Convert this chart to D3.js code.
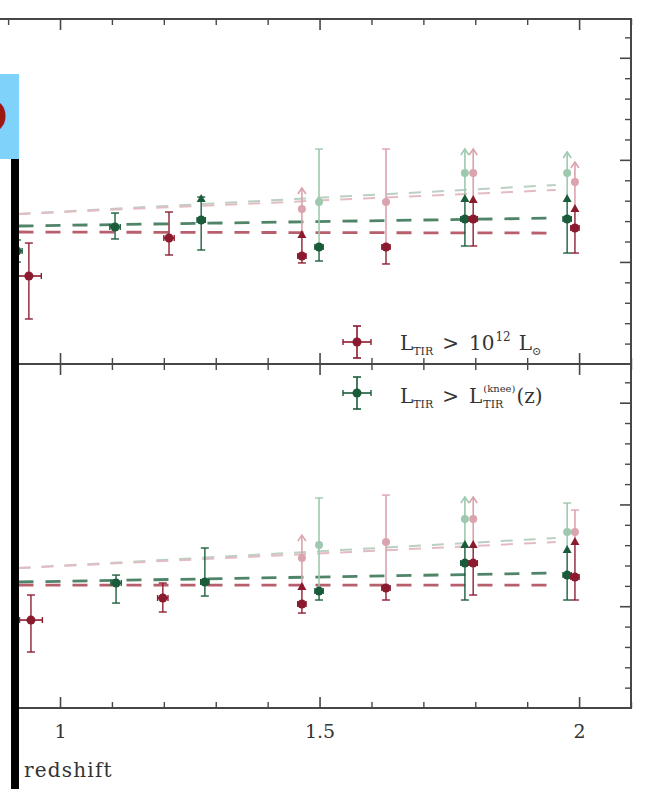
<!DOCTYPE html>
<html>
<head>
<meta charset="utf-8">
<script src="https://cdn.jsdelivr.net/npm/d3@7"></script>
<style>
body{margin:0;background:#fff}
svg{display:block}
</style>
</head>
<body>
<div id="chart"></div>
<script>
// ---- data (redshift z, value v, error range lo/hi, x error, light point, dark caret, arrow flag)
var xMajorTicks=[1,1.5,2]
var xMinorTicks=[0.8,0.9,1.1,1.2,1.3,1.4,1.6,1.7,1.8,1.9,2.1]
var yMajorTicks=[1,2,3]
var yMinorTicks=[0.2,0.4,0.6,0.8,1.2,1.4,1.6,1.8,2.2,2.4,2.6,2.8,3.2]

var topRed=[
  {z:0.940,v:0.862,lo:0.441,hi:1.185,xe:0.024},
  {z:1.210,v:1.234,lo:1.068,hi:1.489,xe:0.010},
  {z:1.466,v:1.058,lo:0.990,hi:1.724,xe:0.008,light:1.519,caret:1.283,arrow:true},
  {z:1.628,v:1.146,lo:0.980,hi:2.106,xe:0.008,light:1.587},
  {z:1.796,v:1.421,lo:1.156,hi:2.106,xe:0.008,light:1.871,caret:1.626,arrow:true},
  {z:1.992,v:1.332,lo:1.087,hi:1.979,xe:0.008,light:1.783,caret:1.538,arrow:true}
]
var topGreen=[
  {z:0.917,v:1.107,lo:0.999,hi:1.215,xe:0.010},
  {z:1.106,v:1.342,lo:1.225,hi:1.479,xe:0.010},
  {z:1.272,v:1.411,lo:1.117,hi:1.636,xe:0.008,caret:1.636},
  {z:1.499,v:1.146,lo:1.009,hi:2.106,xe:0.008,light:1.587},
  {z:1.780,v:1.421,lo:1.156,hi:2.106,xe:0.008,light:1.871,caret:1.636,arrow:true},
  {z:1.977,v:1.421,lo:1.087,hi:2.077,xe:0.008,light:1.871,caret:1.636,arrow:true}
]
var botRed=[
  {z:0.944,v:0.864,lo:0.550,hi:1.110,xe:0.022},
  {z:1.198,v:1.081,lo:0.943,hi:1.228,xe:0.010},
  {z:1.466,v:1.022,lo:0.933,hi:1.699,xe:0.008,light:1.473,caret:1.208,arrow:true},
  {z:1.628,v:1.179,lo:1.061,hi:2.092,xe:0.008,light:1.631},
  {z:1.796,v:1.424,lo:1.110,hi:2.073,xe:0.008,light:1.857,caret:1.621,arrow:true},
  {z:1.992,v:1.287,lo:1.061,hi:1.945,xe:0.008,light:1.729,caret:1.650}
]
var botGreen=[
  {z:1.108,v:1.228,lo:1.031,hi:1.306,xe:0.010},
  {z:1.279,v:1.238,lo:1.100,hi:1.572,xe:0.008},
  {z:1.499,v:1.149,lo:1.061,hi:2.063,xe:0.008,light:1.601},
  {z:1.780,v:1.424,lo:1.061,hi:2.073,xe:0.008,light:1.857,caret:1.621,arrow:true},
  {z:1.977,v:1.306,lo:1.061,hi:2.014,xe:0.008,light:1.729,caret:1.572}
]

// dashed fit lines, values at fitZ ends
var fitZ=[0.92,1.955]
var topRedFit=[1.293,1.283]
var topGreenFit=[1.352,1.430]
var topLightGreenFit=[1.470,1.754]
var topLightRedFit=[1.470,1.705]
var botRedFit=[1.208,1.208]
var botGreenFit=[1.238,1.326]
var botLightGreenFit=[1.375,1.670]
var botLightRedFit=[1.375,1.631]

var redDark='#8c1a2e', redLight='#dba3ad', greenDark='#1a5c3a', greenLight='#9ec9ad'
var axisCol='#474747'
var font='DejaVu Serif'

var svg=d3.select('#chart').append('svg').attr('width',656).attr('height',789)

var x=d3.scaleLinear().domain([0.8,2.1]).range([-43.8,631])

var panels=[
  {y:d3.scaleLinear().domain([0,3.38]).range([364,19]),red:topRed,green:topGreen,
   fits:[[topLightGreenFit,'#b9d0c3',2],[topLightRedFit,'#e3bcc3',2],[topGreenFit,'#4f8468',2.8],[topRedFit,'#b85f6d',2.8]]},
  {y:d3.scaleLinear().domain([0,3.38]).range([708,364]),red:botRed,green:botGreen,
   fits:[[botLightGreenFit,'#b9d0c3',2],[botLightRedFit,'#e3bcc3',2],[botGreenFit,'#4f8468',2.8],[botRedFit,'#b85f6d',2.8]]}
]

panels.forEach(function(p,pi){
  var y=p.y
  var g=svg.append('g')
  // fits
  p.fits.forEach(function(f,i){
    var pts=fitZ.map(function(z,k){return [x(z),y(f[0][k])]})
    g.append('path').attr('d',d3.line()(pts))
      .attr('fill','none').attr('stroke',f[1]).attr('stroke-width',f[2])
      .attr('stroke-dasharray',i<2?'12,11':'15,12')
  })
  drawSeries(g,y,p.green,greenDark,greenLight)
  drawSeries(g,y,p.red,redDark,redLight)

  // frame
  var y0=y.range()[0], y1=y.range()[1]
  g.append('rect').attr('x',x(0.8)).attr('y',y1).attr('width',631-x(0.8)).attr('height',y0-y1)
    .attr('fill','none').attr('stroke',axisCol).attr('stroke-width',2)

  // ticks, all pointing inward
  ;[[d3.axisTop(x),y1],[d3.axisBottom(x),y0]].forEach(function(a){
    var maj=svg.append('g').attr('transform','translate(0,'+a[1]+')')
      .call(a[0].tickValues(xMajorTicks).tickSize(-11).tickSizeOuter(0).tickFormat(''))
    maj.select('.domain').remove()
    maj.selectAll('line').attr('stroke',axisCol).attr('stroke-width',1.6)
  })
  ;[[d3.axisTop(x),y1],[d3.axisBottom(x),y0]].forEach(function(a){
    var mn=svg.append('g').attr('transform','translate(0,'+a[1]+')')
      .call(a[0].tickValues(xMinorTicks).tickSize(-6).tickSizeOuter(0).tickFormat(''))
    mn.select('.domain').remove()
    mn.selectAll('line').attr('stroke',axisCol).attr('stroke-width',1.4)
  })
  var rMaj=svg.append('g').attr('transform','translate(631,0)')
    .call(d3.axisLeft(y).tickValues(yMajorTicks).tickSize(11).tickSizeOuter(0).tickFormat(''))
  rMaj.select('.domain').remove()
  rMaj.selectAll('line').attr('stroke',axisCol).attr('stroke-width',1.6)
  var rMin=svg.append('g').attr('transform','translate(631,0)')
    .call(d3.axisLeft(y).tickValues(yMinorTicks).tickSize(6).tickSizeOuter(0).tickFormat(''))
  rMin.select('.domain').remove()
  rMin.selectAll('line').attr('stroke',axisCol).attr('stroke-width',1.4)
})

// x tick labels under bottom panel
var lab=svg.append('g').attr('transform','translate(0,708)')
  .call(d3.axisBottom(x).tickValues(xMajorTicks).tickSize(0).tickPadding(17).tickFormat(function(d){return d}))
lab.select('.domain').remove()
lab.selectAll('text').attr('font-family',font).attr('font-size',19).attr('fill','#333')

svg.append('text').attr('x',24).attr('y',777).attr('font-family',font).attr('font-size',20)
  .attr('letter-spacing',1.2).attr('fill','#333').text('redshift')

function drawSeries(g,y,data,dark,light){
  data.forEach(function(d){
    var cx=x(d.z)
    var darkTop=d.caret!=null?d.caret:(d.light==null?d.hi:d.v)
    // light upper part of bar
    if(darkTop<d.hi){
      g.append('line').attr('x1',cx).attr('x2',cx).attr('y1',y(darkTop)).attr('y2',y(d.hi))
        .attr('stroke',light).attr('stroke-width',1.6)
    }
    g.append('line').attr('x1',cx).attr('x2',cx).attr('y1',y(d.lo)).attr('y2',y(darkTop))
      .attr('stroke',dark).attr('stroke-width',1.6).attr('opacity',0.85)
    // caps
    g.append('line').attr('x1',cx-4).attr('x2',cx+4).attr('y1',y(d.lo)).attr('y2',y(d.lo))
      .attr('stroke',dark).attr('stroke-width',1.6).attr('opacity',0.85)
    if(d.arrow){
      g.append('path').attr('d','M'+(cx-4)+','+(y(d.hi)+6)+'L'+cx+','+y(d.hi)+'L'+(cx+4)+','+(y(d.hi)+6))
        .attr('fill','none').attr('stroke',light).attr('stroke-width',1.6)
    } else {
      g.append('line').attr('x1',cx-4).attr('x2',cx+4).attr('y1',y(d.hi)).attr('y2',y(d.hi))
        .attr('stroke',d.light!=null?light:dark).attr('stroke-width',1.6).attr('opacity',0.85)
    }
    // x error
    g.append('line').attr('x1',x(d.z-d.xe)).attr('x2',x(d.z+d.xe)).attr('y1',y(d.v)).attr('y2',y(d.v))
      .attr('stroke',dark).attr('stroke-width',1.6)
    ;[d.z-d.xe,d.z+d.xe].forEach(function(e){
      g.append('line').attr('x1',x(e)).attr('x2',x(e)).attr('y1',y(d.v)-3).attr('y2',y(d.v)+3)
        .attr('stroke',dark).attr('stroke-width',1.4)
    })
    if(d.light!=null){
      g.append('circle').attr('cx',cx).attr('cy',y(d.light)).attr('r',4).attr('fill',light)
    }
    if(d.caret!=null){
      var cy=y(d.caret)
      g.append('path').attr('d','M'+(cx-4.5)+','+(cy+5)+'L'+cx+','+(cy-3)+'L'+(cx+4.5)+','+(cy+5)+'Z')
        .attr('fill',dark)
    }
    g.append('circle').attr('cx',cx).attr('cy',y(d.v)).attr('r',4.5).attr('fill',dark)
  })
}

// legend
function legendItem(cy,col,parts,baseline){
  var lg=svg.append('g')
  lg.append('line').attr('x1',343).attr('x2',371).attr('y1',cy).attr('y2',cy).attr('stroke',col).attr('stroke-width',1.6)
  lg.append('line').attr('x1',357).attr('x2',357).attr('y1',cy-16).attr('y2',cy+16).attr('stroke',col).attr('stroke-width',1.6)
  ;[cy-16,cy+16].forEach(function(v){
    lg.append('line').attr('x1',353).attr('x2',361).attr('y1',v).attr('y2',v).attr('stroke',col).attr('stroke-width',1.6)
  })
  ;[343,371].forEach(function(v){
    lg.append('line').attr('x1',v).attr('x2',v).attr('y1',cy-3).attr('y2',cy+3).attr('stroke',col).attr('stroke-width',1.4)
  })
  lg.append('circle').attr('cx',357).attr('cy',cy).attr('r',4.5).attr('fill',col)
  var cx=400, stackW=0
  parts.forEach(function(pt){
    var t=lg.append('text').attr('x',cx+(pt.dx||0)).attr('y',baseline+(pt.dy||0))
      .attr('font-family',font).attr('font-size',pt.s||20).attr('fill','#333').text(pt.t)
    var w=t.node().getComputedTextLength()+(pt.dx||0)
    if(pt.stack){ stackW=w; return }
    cx+=Math.max(w,stackW); stackW=0
  })
}
legendItem(342,redDark,[{t:'L'},{t:'TIR',s:11,dy:5},{t:'>',dx:9},{t:'10',dx:10},{t:'12',s:12,dy:-9,dx:1},{t:'L',dx:8},{t:'\u2299',s:11,dy:5}],350)
legendItem(393,greenDark,[{t:'L'},{t:'TIR',s:11,dy:5},{t:'>',dx:9},{t:'L',dx:10},{t:'(knee)',s:10,dy:-11,dx:1,stack:true},{t:'TIR',s:11,dy:5,dx:1},{t:'(z)',dx:1}],403)

// overlays on the left edge (cropped figure)
svg.append('rect').attr('x',0).attr('y',159).attr('width',11).attr('height',630).attr('fill','#fff')
svg.append('rect').attr('x',11).attr('y',159).attr('width',8).attr('height',630).attr('fill','#000')
svg.append('rect').attr('x',0).attr('y',74).attr('width',19).attr('height',85).attr('fill','#7fd3fb')
svg.append('text').attr('x',8).attr('y',133).attr('text-anchor','end').attr('font-family','DejaVu Sans')
  .attr('font-weight','bold').attr('font-size',46).attr('fill','#9b1a0c').text('D')
</script>
</body>
</html>
